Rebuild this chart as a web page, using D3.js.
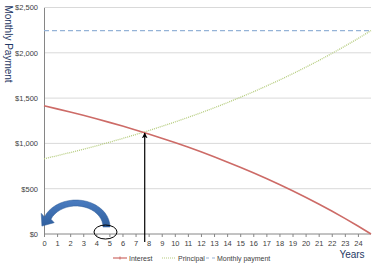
<!DOCTYPE html>
<html>
<head>
<meta charset="utf-8">
<script src="https://cdn.jsdelivr.net/npm/d3@7"></script>
<style>
  body { margin: 0; background: #fff; }
  svg { display: block; font-family: "Liberation Sans", Arial, sans-serif; }
</style>
</head>
<body>
<div id="mainContainer"><svg></svg></div>
<script>
const SVG_WIDTH = 382;
const SVG_HEIGHT = 267;

// values, one per year (0..25)
const years = d3.range(0, 26);
const interest = [1415, 1381, 1346, 1310, 1272, 1232, 1191, 1148, 1104, 1057, 1009, 959, 907, 853, 796, 737, 676, 612, 546, 477, 405, 331, 253, 172, 88, 0];
const principal = [830, 864, 899, 935, 973, 1013, 1054, 1097, 1141, 1188, 1236, 1286, 1338, 1392, 1449, 1508, 1569, 1633, 1699, 1768, 1840, 1914, 1992, 2073, 2157, 2245];
const monthlyPayment = 2245;
const yTicks = [0, 500, 1000, 1500, 2000, 2500];
const xTicks = d3.range(0, 25);
const crossYear = 7.7;
const crossValue = 1125;

const svg = d3.select('svg')
    .attr('width', SVG_WIDTH)
    .attr('height', SVG_HEIGHT);

const x = d3.scaleLinear().domain([0, 25]).range([44, 371]);
const y = d3.scaleLinear().domain([0, 2500]).range([234, 7.5]);

// gridlines
svg.append('g')
    .selectAll('line')
    .data(yTicks.slice(1))
    .enter()
    .append('line')
    .attr('x1', 44).attr('x2', 371)
    .attr('y1', d => y(d)).attr('y2', d => y(d))
    .attr('stroke', '#d9d9d9')
    .attr('stroke-width', 1);

// y axis
const yAxis = svg.append('g')
    .attr('transform', 'translate(44,0)')
    .call(d3.axisLeft(y).tickValues(yTicks).tickSize(0).tickPadding(6)
        .tickFormat(d => '$' + d3.format(',')(d)));
yAxis.select('.domain').attr('stroke', '#868686');
yAxis.selectAll('text').attr('font-size', 7.5).attr('fill', '#404040');

// x axis
const xAxis = svg.append('g')
    .attr('transform', `translate(0,${y(0)})`)
    .call(d3.axisBottom(x).tickValues(xTicks).tickSize(3).tickPadding(4)
        .tickFormat(d3.format('d')));
xAxis.select('.domain').attr('stroke', '#868686').attr('d', `M44,0H371`);
xAxis.selectAll('line').attr('stroke', '#868686');
xAxis.selectAll('text').attr('font-size', 7.5).attr('fill', '#404040');

// series
const line = d3.line().x((d, i) => x(years[i])).y(d => y(d));

svg.append('line')
    .attr('x1', x(0)).attr('x2', x(25))
    .attr('y1', y(monthlyPayment)).attr('y2', y(monthlyPayment))
    .attr('stroke', '#95b3d7')
    .attr('stroke-width', 1.2)
    .attr('stroke-dasharray', '5,3');

svg.append('path')
    .datum(principal)
    .attr('d', line)
    .attr('fill', 'none')
    .attr('stroke', '#b5cc7e')
    .attr('stroke-width', 1.3)
    .attr('stroke-dasharray', '1,1');

svg.append('path')
    .datum(interest)
    .attr('d', line)
    .attr('fill', 'none')
    .attr('stroke', '#cd6b67')
    .attr('stroke-width', 1.6);

// arrow to the crossover
const defs = svg.append('defs');
defs.append('marker')
    .attr('id', 'head')
    .attr('viewBox', '0 0 10 10')
    .attr('refX', 9).attr('refY', 5)
    .attr('markerWidth', 5).attr('markerHeight', 5)
    .attr('orient', 'auto')
    .append('path')
    .attr('d', 'M0,0L10,5L0,10L3,5Z')
    .attr('fill', '#000');

svg.append('line')
    .attr('x1', x(crossYear)).attr('x2', x(crossYear))
    .attr('y1', y(0) + 8).attr('y2', y(crossValue) + 1)
    .attr('stroke', '#000')
    .attr('stroke-width', 1.2)
    .attr('marker-end', 'url(#head)');

// curved block arrow
const grad = defs.append('linearGradient')
    .attr('id', 'blue').attr('x1', 0).attr('y1', 0).attr('x2', 0).attr('y2', 1);
grad.append('stop').attr('offset', '0%').attr('stop-color', '#4a7cc0');
grad.append('stop').attr('offset', '100%').attr('stop-color', '#2f5f9e');

const cx = 76, cy = 227;
const ro = [34, 27], ri = [27, 21];
const a0 = 0, a1 = 158 * Math.PI / 180;
const pt = (r, a) => [cx + r[0] * Math.cos(a), cy - r[1] * Math.sin(a)];
const arcPts = (r, from, to) => d3.range(0, 21).map(i => pt(r, from + (to - from) * i / 20));
const outer = arcPts(ro, a0, a1);
const inner = arcPts(ri, a1, a0);
const o1 = outer[outer.length - 1], i1 = inner[0];
const mid = [(o1[0] + i1[0]) / 2, (o1[1] + i1[1]) / 2];
const dir = [-0.58, 0.81], nrm = [dir[1], -dir[0]];
const barbO = [mid[0] - nrm[0] * 8, mid[1] - nrm[1] * 8];
const barbI = [mid[0] + nrm[0] * 8, mid[1] + nrm[1] * 8];
const tip = [mid[0] + dir[0] * 10, mid[1] + dir[1] * 10];
const shape = outer.concat([barbO, tip, barbI], inner);
svg.append('path')
    .attr('d', d3.line()(shape) + 'Z')
    .attr('fill', 'url(#blue)')
    .attr('stroke', '#2c5a96')
    .attr('stroke-width', 0.5);

svg.append('ellipse')
    .attr('cx', 105.5).attr('cy', 232)
    .attr('rx', 11.5).attr('ry', 7)
    .attr('fill', 'none')
    .attr('stroke', '#000')
    .attr('stroke-width', 1);

// axis titles
svg.append('text')
    .attr('transform', 'translate(5,44) rotate(90)')
    .attr('text-anchor', 'middle')
    .attr('font-size', 10)
    .attr('fill', '#1f3864')
    .text('Monthly Payment');

svg.append('text')
    .attr('x', 352).attr('y', 258)
    .attr('text-anchor', 'middle')
    .attr('font-size', 10)
    .attr('fill', '#1f3864')
    .text('Years');

// legend
const legend = [
    { name: 'Interest', color: '#cd6b67', dash: null, x: 113 },
    { name: 'Principal', color: '#b5cc7e', dash: '1,1', x: 162 },
    { name: 'Monthly payment', color: '#95b3d7', dash: '3,3', x: 206 }
];
const lg = svg.append('g').attr('transform', 'translate(0,258)');
legend.forEach(d => {
    const w = d.dash === '3,3' ? 9 : 14;
    lg.append('line')
        .attr('x1', d.x).attr('x2', d.x + w)
        .attr('y1', 0).attr('y2', 0)
        .attr('stroke', d.color)
        .attr('stroke-width', 1.2)
        .attr('stroke-dasharray', d.dash);
    if (d.name === 'Interest') {
        lg.append('line')
            .attr('x1', d.x + w / 2).attr('x2', d.x + w / 2)
            .attr('y1', -1.5).attr('y2', 1.5)
            .attr('stroke', d.color);
    }
    lg.append('text')
        .attr('x', d.x + w + 2).attr('y', 2.5)
        .attr('font-size', 7)
        .attr('fill', '#404040')
        .text(d.name);
});
</script>
</body>
</html>
